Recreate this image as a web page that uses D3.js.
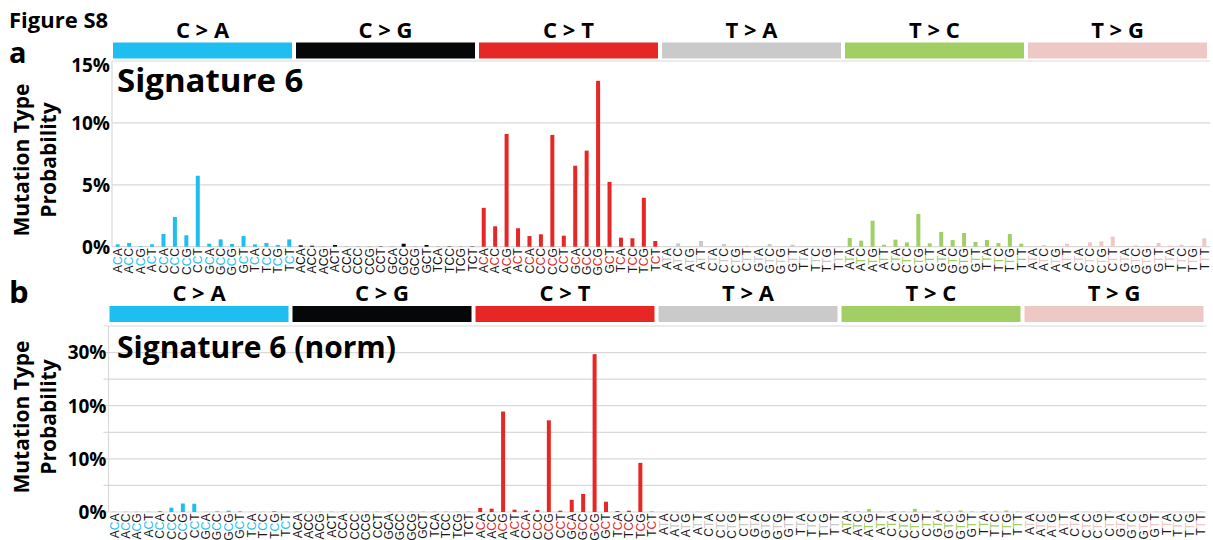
<!DOCTYPE html>
<html lang="en">
<head>
<meta charset="UTF-8">
<script src="https://d3js.org/d3.v7.min.js"></script>
<style>
  body { margin: 0; background: #fff; }
  svg text { font-family: "Open Sans", sans-serif; }
</style>
<title>Signature 6</title>
</head>
<body>
<script>
// mutation classes and their colours
const groups = ["C > A", "C > G", "C > T", "T > A", "T > C", "T > G"];
const groupColors = ["#1ebff0", "#050708", "#e62725", "#cbcacb", "#a1cf64", "#edc8c5"];
const middle = ["C", "C", "C", "T", "T", "T"];
// 5' and 3' flanking bases for the 16 contexts
const flank5 = ["A","A","A","A","C","C","C","C","G","G","G","G","T","T","T","T"];
const flank3 = ["A","C","G","T","A","C","G","T","A","C","G","T","A","C","G","T"];

// panel a: Signature 6 (percent)
const a_CA = [0.19, 0.30, 0.05, 0.19, 1.03, 2.40, 0.92, 5.73, 0.24, 0.59, 0.22, 0.86, 0.19, 0.30, 0.14, 0.59];
const a_CG = [0.11, 0.08, 0.01, 0.14, 0.01, 0.01, 0.01, 0.03, 0.01, 0.24, 0.01, 0.14, 0.01, 0.03, 0.01, 0.03];
const a_CT = [3.14, 1.65, 9.11, 1.49, 0.86, 1.00, 9.03, 0.89, 6.54, 7.76, 13.4, 5.24, 0.73, 0.68, 3.95, 0.46];
const a_TA = [0.03, 0.27, 0.03, 0.46, 0.01, 0.22, 0.05, 0.08, 0.01, 0.22, 0.03, 0.16, 0.01, 0.05, 0.01, 0.05];
const a_TC = [0.70, 0.49, 2.10, 0.16, 0.57, 0.35, 2.65, 0.27, 1.19, 0.54, 1.11, 0.38, 0.54, 0.30, 1.03, 0.24];
const a_TG = [0.03, 0.14, 0.05, 0.24, 0.03, 0.35, 0.43, 0.81, 0.02, 0.11, 0.08, 0.30, 0.08, 0.16, 0.08, 0.68];

// panel b: Signature 6 (norm) (percent)
const b_CA = [0.04, 0.04, 0.04, 0.04, 0.19, 0.81, 1.60, 1.56, 0.03, 0.12, 0.25, 0.12, 0.03, 0.03, 0.19, 0.03];
const b_CG = [0.02, 0.02, 0.02, 0.02, 0.02, 0.02, 0.02, 0.02, 0.02, 0.02, 0.02, 0.02, 0.02, 0.02, 0.02, 0.02];
const b_CT = [0.75, 0.63, 18.9, 0.44, 0.25, 0.38, 17.25, 0.25, 2.30, 3.40, 29.7, 1.94, 0.19, 0.25, 9.25, 0.06];
const b_TA = [0.03, 0.06, 0.03, 0.08, 0.02, 0.05, 0.02, 0.03, 0.02, 0.05, 0.02, 0.04, 0.02, 0.03, 0.02, 0.03];
const b_TC = [0.20, 0.12, 0.55, 0.05, 0.15, 0.10, 0.60, 0.08, 0.30, 0.15, 0.30, 0.10, 0.15, 0.08, 0.28, 0.07];
const b_TG = [0.02, 0.05, 0.02, 0.06, 0.02, 0.08, 0.10, 0.18, 0.02, 0.04, 0.03, 0.07, 0.03, 0.04, 0.03, 0.15];

// axis ticks
const gridA = [0, 5, 10, 15];
const ticksA = [0, 5, 10, 15];
const tickLabelsA = ["0%", "5%", "10%", "15%"];
const gridB = [0, 5, 10, 15, 20, 25, 30, 35];
const ticksB = [0, 10, 20, 30];
const tickLabelsB = ["0%", "10%", "10%", "30%"];

const svg = d3.select("body").append("svg")
    .attr("width", 1213)
    .attr("height", 540);

svg.append("text")
    .attr("x", 9).attr("y", 28)
    .attr("font-size", "22px").attr("font-weight", 700)
    .text("Figure S8");

function drawPanel(p) {
    const g = svg.append("g");

    // flatten the six classes into 96 bars
    const bars = [];
    p.values.forEach(function(arr, gi) {
        arr.forEach(function(v, k) {
            bars.push({ gi: gi, value: v, f5: flank5[k], mid: middle[gi], f3: flank3[k] });
        });
    });

    const x = d3.scaleBand(d3.range(bars.length), [p.left, p.right]);
    const xg = d3.scaleBand(groups, [p.left, p.right]);
    const y = d3.scaleLinear([0, p.max], [p.base, p.top]);

    // panel letter
    g.append("text")
        .attr("x", 9).attr("y", p.letterY)
        .attr("font-size", p.letterSize).attr("font-weight", 700)
        .text(p.letter);

    // class header bars + labels
    g.selectAll("rect.cls")
        .data(groups)
        .enter()
        .append("rect")
        .attr("x", function(d) { return xg(d) + 1; })
        .attr("y", p.clsY)
        .attr("width", xg.bandwidth() - 4)
        .attr("height", 16)
        .attr("fill", function(d, i) { return groupColors[i]; });

    g.selectAll("text.cls")
        .data(groups)
        .enter()
        .append("text")
        .attr("x", function(d) { return xg(d) + xg.bandwidth() / 2 - 1; })
        .attr("y", p.clsTextY)
        .attr("text-anchor", "middle")
        .attr("font-size", p.clsSize)
        .attr("font-weight", 700)
        .text(function(d) { return d; });

    // grid
    g.selectAll("line.grid")
        .data(p.grid)
        .enter()
        .append("line")
        .attr("x1", p.left - p.tickLen).attr("x2", p.right)
        .attr("y1", function(d) { return y(d); })
        .attr("y2", function(d) { return y(d); })
        .attr("stroke", "#d9d9d9")
        .attr("stroke-width", 1.2);

    g.append("line")
        .attr("x1", p.left).attr("x2", p.left)
        .attr("y1", p.top).attr("y2", p.base)
        .attr("stroke", "#d9d9d9")
        .attr("stroke-width", 1.2);

    // y tick labels
    g.selectAll("text.tick")
        .data(p.ticks)
        .enter()
        .append("text")
        .attr("x", p.left - 2)
        .attr("y", function(d) { return Math.max(y(d), p.top + 4); })
        .attr("dy", "0.36em")
        .attr("text-anchor", "end")
        .attr("font-size", "19px")
        .attr("font-weight", 700)
        .text(function(d, i) { return p.tickLabels[i]; });

    // y title
    const yt = g.append("text")
        .attr("transform", "translate(0," + p.titleMidY + ") rotate(-90)")
        .attr("text-anchor", "middle")
        .attr("font-size", "21px")
        .attr("font-weight", 700);
    yt.append("tspan").attr("x", 0).attr("y", 29).text("Mutation Type");
    yt.append("tspan").attr("x", 0).attr("y", 56).text("Probability");

    // signature name
    g.append("text")
        .attr("x", 117).attr("y", p.sigY)
        .attr("font-size", p.sigSize)
        .attr("font-weight", 700)
        .text(p.title);

    // bars
    const bw = 4;
    g.selectAll("rect.bar")
        .data(bars)
        .enter()
        .append("rect")
        .attr("x", function(d, i) { return x(i) + x.bandwidth() / 2 - bw / 2; })
        .attr("y", function(d) { return y(d.value); })
        .attr("width", bw)
        .attr("height", function(d) { return p.base - y(d.value); })
        .attr("fill", function(d) { return groupColors[d.gi]; });

    // context labels, reading bottom to top
    const lab = g.selectAll("text.ctx")
        .data(bars)
        .enter()
        .append("text")
        .attr("transform", function(d, i) {
            return "translate(" + (x(i) + x.bandwidth() / 2 + 4.3) + "," + (p.base + 1.5) + ") rotate(-90)";
        })
        .attr("text-anchor", "end")
        .style("font-family", "'Liberation Sans', Arial, sans-serif")
        .attr("font-size", "12px")
        .attr("fill", "#1a1a1a");
    lab.append("tspan").text(function(d) { return d.f5; });
    lab.append("tspan").attr("fill", function(d) { return groupColors[d.gi]; })
        .text(function(d) { return d.mid; });
    lab.append("tspan").text(function(d) { return d.f3; });
}

drawPanel({
    letter: "a", letterY: 63, letterSize: "29px",
    title: "Signature 6", sigY: 92, sigSize: "33px",
    values: [a_CA, a_CG, a_CT, a_TA, a_TC, a_TG],
    left: 112, right: 1210, top: 61, base: 246.7, max: 15,
    grid: gridA, ticks: ticksA, tickLabels: tickLabelsA, tickLen: 0,
    clsY: 42.5, clsTextY: 38, clsSize: "22px",
    titleMidY: 160
});

drawPanel({
    letter: "b", letterY: 303, letterSize: "31px",
    title: "Signature 6 (norm)", sigY: 358, sigSize: "30px",
    values: [b_CA, b_CG, b_CT, b_TA, b_TC, b_TG],
    left: 108.5, right: 1206.5, top: 326, base: 512, max: 35,
    grid: gridB, ticks: ticksB, tickLabels: tickLabelsB, tickLen: 5,
    clsY: 306, clsTextY: 301, clsSize: "22px",
    titleMidY: 417
});
</script>
</body>
</html>
